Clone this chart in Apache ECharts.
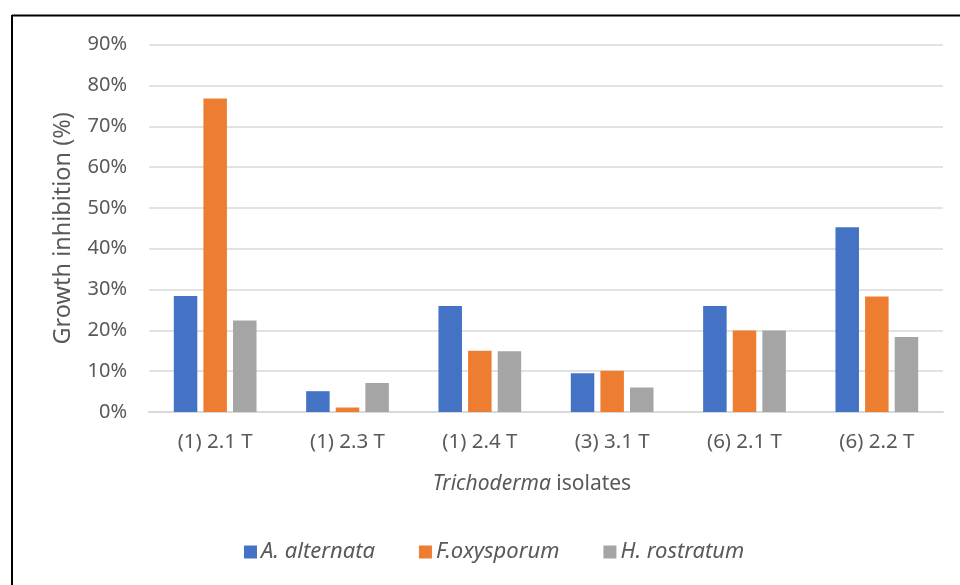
<!DOCTYPE html>
<html>
<head>
<meta charset="utf-8">
<script src="https://cdn.jsdelivr.net/npm/echarts@6/dist/echarts.min.js"></script>
<style>
  html, body { margin: 0; padding: 0; background: #fff; }
  #chart { width: 960px; height: 585px; }
</style>
</head>
<body>
<div id="chart"></div>
<script>
// Isolates on the category axis
const isolates = ['(1) 2.1 T', '(1) 2.3 T', '(1) 2.4 T', '(3) 3.1 T', '(6) 2.1 T', '(6) 2.2 T'];

// Growth inhibition (%) per pathogen
const aAlternata = [28.4, 5.1, 26.0, 9.5, 26.0, 45.3];
const fOxysporum = [76.8, 1.1, 15.0, 10.1, 20.0, 28.3];
const hRostratum = [22.4, 7.1, 14.9, 6.0, 20.0, 18.4];

const seriesNames = ['A. alternata', 'F.oxysporum', 'H. rostratum'];
const seriesColors = ['#4472C4', '#ED7D31', '#A5A5A5'];

const FONT = '"Noto Sans", "Open Sans", sans-serif';
const TEXT = '#595959';

const chart = echarts.init(document.getElementById('chart'), null, { renderer: 'canvas' });

function bar(name, data, color) {
  return {
    name: name,
    type: 'bar',
    data: data,
    barWidth: 23.5,
    barGap: '26%',
    itemStyle: { color: color },
    emphasis: { disabled: true }
  };
}

chart.setOption({
  animation: false,
  backgroundColor: '#fff',
  textStyle: { fontFamily: FONT },
  grid: { left: 149, right: 17, top: 44.7, bottom: 173, containLabel: false },
  xAxis: {
    type: 'category',
    data: isolates,
    axisLine: { lineStyle: { color: '#D9D9D9', width: 2 } },
    axisTick: { show: false },
    axisLabel: { color: TEXT, fontSize: 20.5, fontFamily: FONT, margin: 20 },
    name: '{i|Trichoderma} isolates',
    nameLocation: 'middle',
    nameGap: 62,
    nameTextStyle: {
      color: TEXT, fontSize: 21, fontFamily: FONT,
      padding: [0, 28, 0, 0],
      rich: {
        i: { fontStyle: 'italic', color: TEXT, fontSize: 21, fontFamily: FONT }
      }
    }
  },
  yAxis: {
    type: 'value',
    min: 0,
    max: 90,
    interval: 10,
    axisLine: { show: false },
    axisTick: { show: false },
    splitLine: { lineStyle: { color: '#D9D9D9', width: 1.5 } },
    axisLabel: {
      color: TEXT, fontSize: 20, fontFamily: FONT, margin: 22,
      formatter: function (v) { return v + '%'; }
    },
    name: 'Growth inhibition (%)',
    nameLocation: 'middle',
    nameGap: 74,
    nameTextStyle: { color: TEXT, fontSize: 23.5, fontFamily: FONT }
  },
  legend: {
    data: seriesNames,
    bottom: 17,
    left: 239,
    itemWidth: 13,
    itemHeight: 13,
    itemGap: 44,
    icon: 'rect',
    textStyle: { color: TEXT, fontSize: 22, fontStyle: 'italic', fontFamily: FONT, padding: [0, 0, 0, -1] }
  },
  graphic: [
    { type: 'line', shape: { x1: 12, y1: 15.5, x2: 960, y2: 15.5 }, style: { stroke: '#000', lineWidth: 2 }, silent: true },
    { type: 'line', shape: { x1: 12, y1: 15, x2: 12, y2: 585 }, style: { stroke: '#000', lineWidth: 2 }, silent: true }
  ],
  series: [
    bar(seriesNames[0], aAlternata, seriesColors[0]),
    bar(seriesNames[1], fOxysporum, seriesColors[1]),
    bar(seriesNames[2], hRostratum, seriesColors[2])
  ]
});
</script>
</body>
</html>
